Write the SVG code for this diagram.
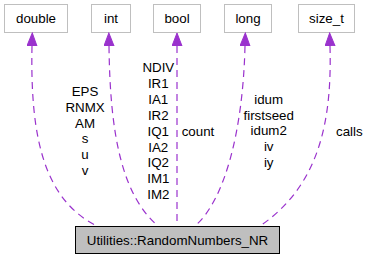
<svg xmlns="http://www.w3.org/2000/svg" width="368" height="261" viewBox="0 0 368 261">
  <style>
    text { font-family: "Liberation Sans", Arial, sans-serif; font-size: 13.33px; fill: #000; }
    .type rect { fill: #fff; stroke: #bfbfbf; stroke-width: 1; }
    .main rect { fill: #bfbfbf; stroke: #000; stroke-width: 1; }
    .mid { text-anchor: middle; }
    .edge { fill: none; stroke: #9a32cd; stroke-width: 1.2; stroke-dasharray: 7,5; marker-start: url(#head); }
  </style>
  <defs>
    <marker id="head" markerUnits="userSpaceOnUse" markerWidth="14" markerHeight="11" refX="0" refY="5" orient="auto-start-reverse">
      <path d="M0,0 L13,5 L0,10 Z" fill="#9a32cd" stroke="#9a32cd" stroke-width="1"/>
    </marker>
  </defs>

  <!-- type nodes -->
  <g id="node-double" class="type"><rect x="4.5" y="4.5" width="63" height="28"/><text class="mid" x="36" y="23">double</text></g>
  <g id="node-int" class="type"><rect x="91.5" y="4.5" width="39" height="28"/><text class="mid" x="111" y="23">int</text></g>
  <g id="node-bool" class="type"><rect x="153.5" y="4.5" width="47" height="28"/><text class="mid" x="177" y="23">bool</text></g>
  <g id="node-long" class="type"><rect x="224.5" y="4.5" width="47" height="28"/><text class="mid" x="248" y="23">long</text></g>
  <g id="node-size_t" class="type"><rect x="298.5" y="4.5" width="56" height="28"/><text class="mid" x="326.5" y="23">size_t</text></g>

  <!-- class node -->
  <g id="node-RandomNumbers_NR" class="main"><rect x="75.5" y="226.5" width="204" height="27"/><text class="mid" x="177.5" y="245">Utilities::RandomNumbers_NR</text></g>

  <!-- usage connectors -->
  <g id="connectors">
    <path class="edge" d="M32,46 C30,140 45,200 97,226"/>
    <path class="edge" d="M109,46 C110,135 122,195 158,226"/>
    <path class="edge" d="M177,46 L177,226"/>
    <path class="edge" d="M245,46 C243,130 225,200 195,226"/>
    <path class="edge" d="M330,46 C332,120 320,185 260,226"/>
  </g>

  <!-- connector labels -->
  <g id="labels">
    <text class="mid" x="85" y="96">EPS</text>
    <text class="mid" x="85" y="111.8">RNMX</text>
    <text class="mid" x="85" y="127.6">AM</text>
    <text class="mid" x="85" y="143.4">s</text>
    <text class="mid" x="85" y="159.2">u</text>
    <text class="mid" x="85" y="175">v</text>

    <text class="mid" x="158.3" y="72">NDIV</text>
    <text class="mid" x="158.3" y="87.9">IR1</text>
    <text class="mid" x="158.3" y="103.8">IA1</text>
    <text class="mid" x="158.3" y="119.7">IR2</text>
    <text class="mid" x="158.3" y="135.6">IQ1</text>
    <text class="mid" x="158.3" y="151.5">IA2</text>
    <text class="mid" x="158.3" y="167.4">IQ2</text>
    <text class="mid" x="158.3" y="183.3">IM1</text>
    <text class="mid" x="158.3" y="199.2">IM2</text>

    <text x="181.7" y="135.6">count</text>

    <text class="mid" x="268.7" y="103.6">idum</text>
    <text class="mid" x="268.7" y="119.5">firstseed</text>
    <text class="mid" x="268.7" y="135.4">idum2</text>
    <text class="mid" x="268.7" y="151.3">iv</text>
    <text class="mid" x="268.7" y="167.2">iy</text>

    <text x="336" y="135.6">calls</text>
  </g>
</svg>
